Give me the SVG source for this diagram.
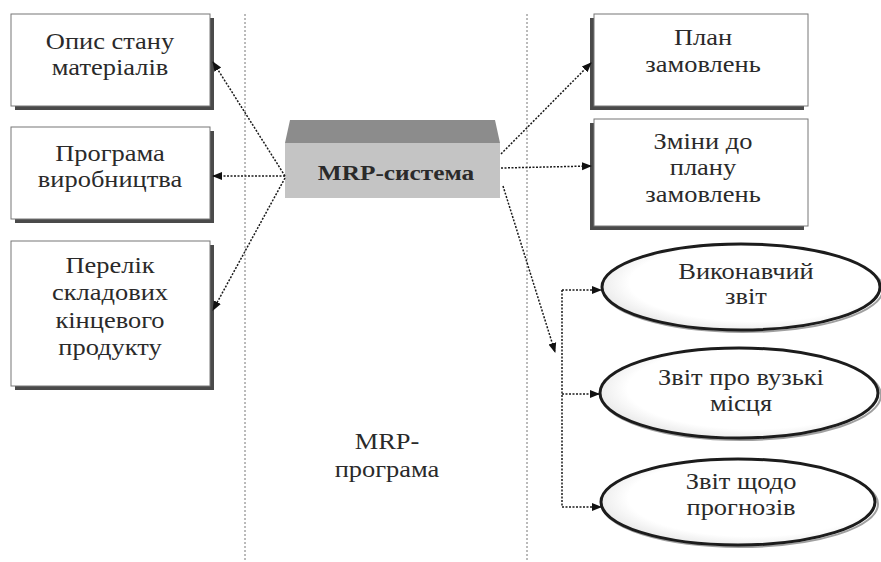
<svg xmlns="http://www.w3.org/2000/svg" width="881" height="562" viewBox="0 0 881 562">
  <defs>
    <marker id="arrow" viewBox="0 0 10 10" refX="9" refY="5" markerWidth="10" markerHeight="10" markerUnits="userSpaceOnUse" orient="auto">
      <path d="M0,1 L10,5 L0,9 Z" fill="#111"/>
    </marker>
    <radialGradient id="ovalFill" cx="0.55" cy="0.45" r="0.6">
      <stop offset="0.75" stop-color="#ffffff"/>
      <stop offset="1" stop-color="#e4e4e4"/>
    </radialGradient>
  </defs>
  <style>
    .lane { stroke: #777; stroke-width: 1; stroke-dasharray: 2 2; fill: none; }
    .box { fill: #ffffff; stroke: #777; stroke-width: 1; }
    .shadow { fill: #4a4a4a; }
    .oval { fill: url(#ovalFill); stroke: #1c1c1c; stroke-width: 3; }
    .oval-shade { fill: none; stroke: #a0a0a0; stroke-width: 2; }
    .link { stroke: #1a1a1a; stroke-width: 1.5; stroke-dasharray: 2 1.5; fill: none; }
    .link-arrow { marker-end: url(#arrow); }
    .label { font-family: "Liberation Serif", "Times New Roman", "DejaVu Serif", serif; font-size: 23px; fill: #2a2a2a; text-anchor: middle; }
    .bold { font-weight: bold; font-size: 22px; }
  </style>

  <rect width="881" height="562" fill="#ffffff"/>

  <!-- lane separators -->
  <g id="lanes">
    <line class="lane" x1="245" y1="14" x2="245" y2="562"/>
    <line class="lane" x1="527" y1="14" x2="527" y2="562"/>
  </g>

  <!-- left input boxes (labels are widened 15%) -->
  <g id="node-materials">
    <rect class="shadow" x="15" y="18" width="199" height="92"/>
    <rect class="box" x="11" y="14" width="199" height="92"/>
    <text class="label" transform="translate(110 49) scale(1.15 1)">Опис стану</text>
    <text class="label" transform="translate(110 75) scale(1.15 1)">матеріалів</text>
  </g>
  <g id="node-production">
    <rect class="shadow" x="15" y="131" width="199" height="92"/>
    <rect class="box" x="11" y="127" width="199" height="92"/>
    <text class="label" transform="translate(110 161) scale(1.15 1)">Програма</text>
    <text class="label" transform="translate(110 187) scale(1.15 1)">виробництва</text>
  </g>
  <g id="node-bom">
    <rect class="shadow" x="15" y="245" width="199" height="145"/>
    <rect class="box" x="11" y="241" width="199" height="145"/>
    <text class="label" transform="translate(110 273) scale(1.15 1)">Перелік</text>
    <text class="label" transform="translate(110 300) scale(1.15 1)">складових</text>
    <text class="label" transform="translate(110 328) scale(1.15 1)">кінцевого</text>
    <text class="label" transform="translate(110 355) scale(1.15 1)">продукту</text>
  </g>

  <!-- central system block -->
  <g id="node-mrp">
    <polygon points="290,120 495,120 500,143 285,143" fill="#8c8c8c"/>
    <rect x="285" y="143" width="215" height="55" fill="#c4c4c4"/>
    <text class="label bold" transform="translate(396 180) scale(1.15 1)">MRP-система</text>
  </g>

  <!-- program label -->
  <g id="node-program">
    <text class="label" transform="translate(387 449) scale(1.15 1)">MRP-</text>
    <text class="label" transform="translate(387 477) scale(1.15 1)">програма</text>
  </g>

  <!-- right output boxes -->
  <g id="node-plan">
    <rect class="shadow" x="590" y="18" width="214" height="92"/>
    <rect class="box" x="594" y="14" width="214" height="92"/>
    <text class="label" transform="translate(703 45) scale(1.15 1)">План</text>
    <text class="label" transform="translate(703 72) scale(1.15 1)">замовлень</text>
  </g>
  <g id="node-changes">
    <rect class="shadow" x="590" y="123" width="214" height="107"/>
    <rect class="box" x="594" y="119" width="214" height="107"/>
    <text class="label" transform="translate(703 149) scale(1.15 1)">Зміни до</text>
    <text class="label" transform="translate(703 175) scale(1.15 1)">плану</text>
    <text class="label" transform="translate(703 202) scale(1.15 1)">замовлень</text>
  </g>

  <!-- report ovals -->
  <g id="node-exec-report">
    <ellipse class="oval-shade" cx="743" cy="289" rx="140" ry="43"/>
    <ellipse class="oval" cx="741" cy="287" rx="139" ry="43"/>
    <text class="label" transform="translate(746 279) scale(1.15 1)">Виконавчий</text>
    <text class="label" transform="translate(746 304) scale(1.15 1)">звіт</text>
  </g>
  <g id="node-bottleneck-report">
    <ellipse class="oval-shade" cx="741" cy="395" rx="140" ry="45"/>
    <ellipse class="oval" cx="739" cy="393" rx="139" ry="45"/>
    <text class="label" transform="translate(741 385) scale(1.15 1)">Звіт про вузькі</text>
    <text class="label" transform="translate(741 411) scale(1.15 1)">місця</text>
  </g>
  <g id="node-forecast-report">
    <ellipse class="oval-shade" cx="740" cy="504" rx="138" ry="43"/>
    <ellipse class="oval" cx="738" cy="502" rx="137" ry="43"/>
    <text class="label" transform="translate(741 489) scale(1.15 1)">Звіт щодо</text>
    <text class="label" transform="translate(741 515) scale(1.15 1)">прогнозів</text>
  </g>

  <!-- connectors -->
  <g id="connectors">
    <line class="link link-arrow" x1="285" y1="176" x2="213" y2="62"/>
    <line class="link link-arrow" x1="285" y1="176" x2="213" y2="176"/>
    <line class="link link-arrow" x1="285" y1="178" x2="213" y2="310"/>
    <line class="link link-arrow" x1="501" y1="154" x2="591" y2="63"/>
    <line class="link link-arrow" x1="501" y1="168" x2="591" y2="166"/>
    <line class="link link-arrow" x1="503" y1="186" x2="555" y2="352"/>
    <line class="link" x1="562" y1="290" x2="562" y2="507"/>
    <line class="link link-arrow" x1="562" y1="290" x2="601" y2="290"/>
    <line class="link link-arrow" x1="562" y1="394" x2="599" y2="394"/>
    <line class="link link-arrow" x1="562" y1="507" x2="601" y2="507"/>
  </g>
</svg>
